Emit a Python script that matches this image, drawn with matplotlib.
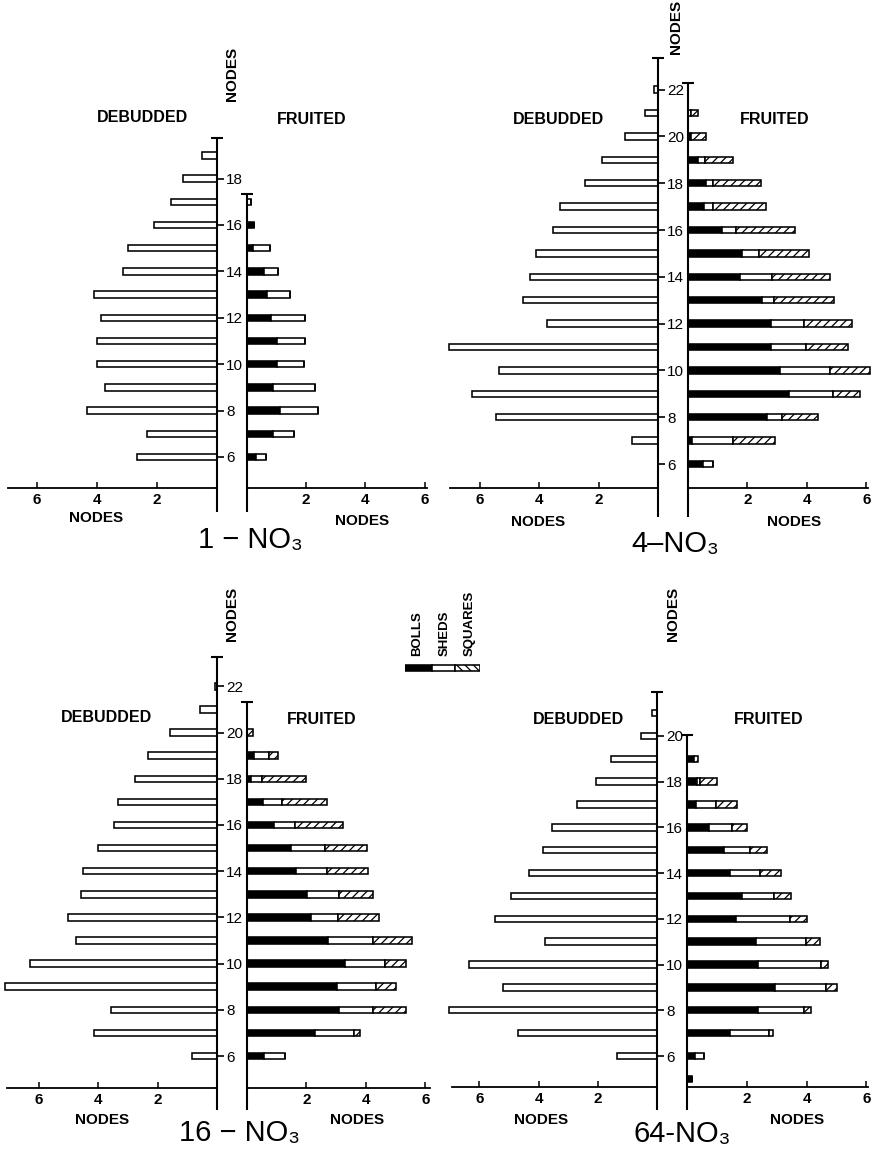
import matplotlib
matplotlib.use('Agg')
import matplotlib.pyplot as plt
from matplotlib.patches import Rectangle
import numpy as np

plt.rcParams['font.family'] = ['Liberation Sans', 'DejaVu Sans']
plt.rcParams['hatch.linewidth'] = 0.9

# ---------------- data ----------------
# Panel 1: 1-NO3
deb_nodes_1 = list(range(6, 20))
deb_vals_1 = [2.67, 2.33, 4.33, 3.73, 4.0, 4.0, 3.87, 4.1, 3.13, 2.97, 2.1, 1.55, 1.15, 0.5]
fr_nodes_1 = list(range(6, 18))
bolls_1 = [0.32, 0.89, 1.11, 0.89, 1.0, 1.0, 0.82, 0.68, 0.57, 0.19, 0.25, 0.0]
sheds_1 = [0.33, 0.70, 1.30, 1.41, 0.94, 0.97, 1.13, 0.77, 0.48, 0.58, 0.0, 0.15]
squares_1 = [0, 0, 0, 0, 0, 0, 0, 0, 0, 0, 0, 0]

# Panel 2: 4-NO3
deb_nodes_2 = list(range(7, 23))
deb_vals_2 = [0.88, 5.45, 6.27, 5.37, 7.04, 3.73, 4.55, 4.3, 4.12, 3.54, 3.29, 2.47, 1.89, 1.12, 0.45, 0.12]
fr_nodes_2 = list(range(6, 22))
bolls_2 = [0.51, 0.15, 2.67, 3.41, 3.09, 2.81, 2.81, 2.5, 1.76, 1.82, 1.14, 0.55, 0.6, 0.34, 0.1, 0.0]
sheds_2 = [0.32, 1.38, 0.48, 1.48, 1.68, 1.17, 1.11, 0.4, 1.08, 0.57, 0.47, 0.3, 0.25, 0.23, 0.0, 0.1]
squares_2 = [0.0, 1.39, 1.23, 0.91, 1.37, 1.40, 1.59, 2.02, 1.93, 1.67, 2.0, 1.76, 1.62, 0.96, 0.52, 0.22]

# Panel 3: 16-NO3
deb_nodes_3 = list(range(6, 23))
deb_vals_3 = [0.84, 4.13, 3.57, 7.13, 6.29, 4.74, 5.02, 4.57, 4.52, 4.01, 3.48, 3.35, 2.75, 2.34, 1.57, 0.56, 0.08]
fr_nodes_3 = list(range(6, 21))
bolls_3 = [0.56, 2.28, 3.09, 3.03, 3.31, 2.73, 2.17, 2.02, 1.66, 1.49, 0.9, 0.54, 0.13, 0.25, 0.0]
sheds_3 = [0.73, 1.32, 1.16, 1.33, 1.35, 1.51, 0.89, 1.07, 1.04, 1.15, 0.73, 0.64, 0.38, 0.48, 0.0]
squares_3 = [0.0, 0.22, 1.09, 0.66, 0.68, 1.32, 1.38, 1.15, 1.37, 1.40, 1.59, 1.52, 1.46, 0.31, 0.2]

# Panel 4: 64-NO3
deb_nodes_4 = list(range(6, 22))
deb_vals_4 = [1.34, 4.7, 7.03, 5.21, 6.34, 3.77, 5.46, 4.93, 4.31, 3.86, 3.56, 2.7, 2.05, 1.57, 0.55, 0.16]
fr_nodes_4 = list(range(5, 20))
bolls_4 = [0.17, 0.28, 1.45, 2.38, 2.94, 2.37, 2.32, 1.65, 1.84, 1.45, 1.23, 0.73, 0.31, 0.34, 0.22]
sheds_4 = [0.0, 0.28, 1.29, 1.53, 1.70, 2.10, 1.65, 1.79, 1.06, 0.99, 0.87, 0.78, 0.67, 0.08, 0.0]
squares_4 = [0.0, 0.0, 0.13, 0.25, 0.36, 0.25, 0.48, 0.58, 0.59, 0.69, 0.56, 0.48, 0.70, 0.58, 0.14]

titles = ['1 \u2212 NO\u2083', '4\u2013NO\u2083', '16 \u2212 NO\u2083', '64-NO\u2083']
x_ticks = [2, 4, 6]

# ---------------- layout (pixels) ----------------
W, H = 873, 1151
fig = plt.figure(figsize=(W / 100, H / 100), dpi=100)
fig.patch.set_facecolor('white')

def fx(px):
    return px / W

def fy(py):
    return 1 - py / H

geoms = [
    dict(Lstart=8, Lzero=217, Lscale=30.0, Rzero=247, Rscale=29.6, Rend=427,
         base=488, n6=457, npx=23.2, topL=138, topR=194, ext=512,
         deb=(142, 118), fru=(312, 120), ntop=(232, 101), nl=(96, 518), nr=(362, 521), title=(250, 540)),
    dict(Lstart=450, Lzero=658, Lscale=29.7, Rzero=688, Rscale=29.7, Rend=868,
         base=488, n6=464, npx=23.4, topL=58, topR=83, ext=517,
         deb=(559, 119), fru=(775, 120), ntop=(676, 54), nl=(538, 522), nr=(794, 522), title=(675, 544)),
    dict(Lstart=7, Lzero=217, Lscale=29.7, Rzero=247, Rscale=29.7, Rend=430,
         base=1088, n6=1056, npx=23.1, topL=657, topR=702, ext=1110,
         deb=(107, 718), fru=(322, 719), ntop=(232, 641), nl=(102, 1120), nr=(357, 1120), title=(239, 1133)),
    dict(Lstart=452, Lzero=657, Lscale=29.6, Rzero=687, Rscale=29.9, Rend=868,
         base=1087, n6=1056, npx=22.86, topL=692, topR=735, ext=1110,
         deb=(579, 719), fru=(769, 720), ntop=(673, 641), nl=(541, 1120), nr=(797, 1120), title=(682, 1134)),
]

BH = 0.28
ELW = 1.15
AXLW = 1.5

def label_font(size, weight='bold'):
    return dict(fontsize=size, fontweight=weight, color='black')

def draw_panel(g, deb_nodes, deb_vals, fr_nodes, bolls, sheds, squares, title):
    ybot = 6 - (g['base'] - g['n6']) / g['npx']
    ytopL = 6 + (g['n6'] - g['topL']) / g['npx']
    ytopR = 6 + (g['n6'] - g['topR']) / g['npx']
    yext = 6 - (g['ext'] - g['n6']) / g['npx']

    # ---- debudded (left) ----
    axL = fig.add_axes([fx(g['Lstart']), fy(g['base']),
                        (g['Lzero'] - g['Lstart']) / W, (g['base'] - g['topL']) / H])
    axL.patch.set_visible(False)
    axL.set_xlim((g['Lzero'] - g['Lstart']) / g['Lscale'], 0)
    axL.set_ylim(ybot, ytopL)
    bars = axL.barh(deb_nodes, deb_vals, height=BH, color='white', edgecolor='black', linewidth=ELW)
    for p in bars:
        p.set_clip_on(False)
    for s in ['top', 'left', 'right']:
        axL.spines[s].set_visible(False)
    axL.spines['bottom'].set_linewidth(1.3)
    axL.plot([0, 0], [yext, ytopL], color='black', lw=AXLW, clip_on=False, solid_capstyle='butt')
    axL.plot([0], [ytopL], marker='_', ms=9, mew=1.5, color='black', clip_on=False)
    axL.set_xticks(x_ticks)
    axL.set_xticklabels([str(t) for t in x_ticks], fontsize=11, fontweight='bold')
    axL.tick_params(axis='x', direction='in', length=4, width=1.1, pad=3.5)
    axL.yaxis.tick_right()
    top_node = int(np.floor(ytopL))
    yt = [n for n in range(6, top_node + 1, 2)]
    axL.set_yticks(yt)
    axL.set_yticklabels([str(n) for n in yt], fontsize=11)
    axL.tick_params(axis='y', direction='out', length=5, width=1.2, pad=1.5)

    # ---- fruited (right) ----
    axR = fig.add_axes([fx(g['Rzero']), fy(g['base']),
                        (g['Rend'] - g['Rzero']) / W, (g['base'] - g['topR']) / H])
    axR.patch.set_visible(False)
    axR.set_xlim(0, (g['Rend'] - g['Rzero']) / g['Rscale'])
    axR.set_ylim(ybot, ytopR)
    b = np.array(bolls)
    s_ = np.array(sheds)
    q = np.array(squares)
    groups = [
        axR.barh(fr_nodes, b, height=BH, color='black', edgecolor='black', linewidth=ELW),
        axR.barh(fr_nodes, s_, left=b, height=BH, color='white', edgecolor='black', linewidth=ELW),
        axR.barh(fr_nodes, q, left=b + s_, height=BH, color='white', edgecolor='black',
                 linewidth=ELW, hatch='////'),
    ]
    for grp in groups:
        for p in grp:
            p.set_clip_on(False)
    for s in ['top', 'left', 'right']:
        axR.spines[s].set_visible(False)
    axR.spines['bottom'].set_linewidth(1.3)
    axR.plot([0, 0], [yext, ytopR], color='black', lw=AXLW, clip_on=False, solid_capstyle='butt')
    axR.plot([0], [ytopR], marker='_', ms=9, mew=1.5, color='black', clip_on=False)
    axR.set_yticks([])
    axR.set_xticks(x_ticks)
    axR.set_xticklabels([str(t) for t in x_ticks], fontsize=11, fontweight='bold')
    axR.tick_params(axis='x', direction='in', length=4, width=1.1, pad=3.5)

    # ---- texts ----
    fig.text(fx(g['deb'][0]), fy(g['deb'][1]), 'DEBUDDED', ha='center', va='center', **label_font(11.5))
    fig.text(fx(g['fru'][0]), fy(g['fru'][1]), 'FRUITED', ha='center', va='center', **label_font(11.5))
    fig.text(fx(g['ntop'][0]), fy(g['ntop'][1]), 'NODES', ha='center', va='bottom', rotation=90,
             **label_font(11))
    fig.text(fx(g['nl'][0]), fy(g['nl'][1]), 'NODES', ha='center', va='center', **label_font(11))
    fig.text(fx(g['nr'][0]), fy(g['nr'][1]), 'NODES', ha='center', va='center', **label_font(11))
    fig.text(fx(g['title'][0]), fy(g['title'][1]), title, ha='center', va='center',
             fontsize=21, fontweight='normal')


all_data = [
    (deb_nodes_1, deb_vals_1, fr_nodes_1, bolls_1, sheds_1, squares_1),
    (deb_nodes_2, deb_vals_2, fr_nodes_2, bolls_2, sheds_2, squares_2),
    (deb_nodes_3, deb_vals_3, fr_nodes_3, bolls_3, sheds_3, squares_3),
    (deb_nodes_4, deb_vals_4, fr_nodes_4, bolls_4, sheds_4, squares_4),
]
for g, d, t in zip(geoms, all_data, titles):
    draw_panel(g, *d, t)

# ---- legend ----
leg = fig.add_axes([fx(405), fy(672), (480 - 405) / W, 8 / H])
leg.set_xlim(0, 75)
leg.set_ylim(0, 1)
leg.axis('off')
leg.add_patch(Rectangle((0, 0.1), 27, 0.8, facecolor='black', edgecolor='black', lw=ELW))
leg.add_patch(Rectangle((27, 0.1), 23, 0.8, facecolor='white', edgecolor='black', lw=ELW))
leg.add_patch(Rectangle((50, 0.1), 25, 0.8, facecolor='white', edgecolor='black', lw=ELW, hatch='\\\\\\\\'))
for lx, lt in [(417, 'BOLLS'), (445, 'SHEDS'), (470, 'SQUARES')]:
    fig.text(fx(lx), fy(656), lt, ha='center', va='bottom', rotation=90, **label_font(9.5))

fig.savefig('out.png', dpi=100, facecolor='white')
